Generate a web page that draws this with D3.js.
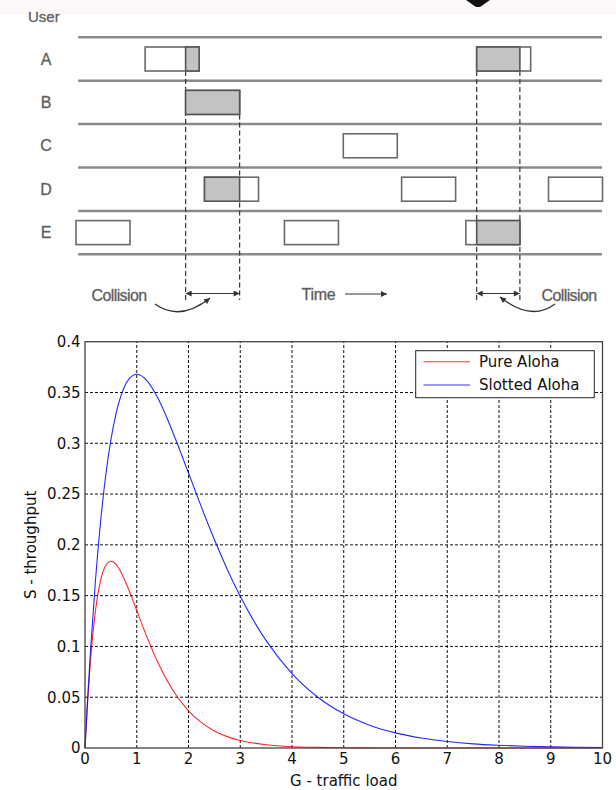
<!DOCTYPE html>
<html><head><meta charset="utf-8">
<script src="https://cdn.jsdelivr.net/npm/d3@7"></script>
<style>
html,body{margin:0;padding:0;background:#fff;}
svg{display:block;}
</style></head>
<body>
<script>
// ---------- Timing diagram data ----------
const users = ["A", "B", "C", "D", "E"];
const frameUser  = ["E", "A", "B", "D", "E", "C", "D", "E", "A", "D"];
const frameStart = [0.0, 1.28, 2.03, 2.38, 3.86, 4.95, 6.03, 7.22, 7.42, 8.75];
const frameLength = 1.0;
const collisionStart = [2.03, 7.42];
const collisionEnd   = [3.03, 8.22];

// ---------- Throughput chart data ----------
const loadG = [0, 0.05, 0.1, 0.2, 0.3, 0.4, 0.5, 0.6, 0.7, 0.8, 0.9, 1.0, 1.2, 1.4, 1.6, 1.8, 2.0,
  2.25, 2.5, 2.75, 3.0, 3.5, 4.0, 4.5, 5.0, 5.5, 6.0, 6.5, 7.0, 7.5, 8.0, 8.5, 9.0, 9.5, 10];
const pureAloha = [0, 0.0452, 0.0819, 0.1341, 0.1646, 0.1797, 0.1839, 0.1807, 0.1726, 0.1615, 0.1488, 0.1353,
  0.1089, 0.0851, 0.0652, 0.0492, 0.0366, 0.0250, 0.0168, 0.0112, 0.0074, 0.0032, 0.0013, 0.0006, 0.0002,
  0.0001, 0, 0, 0, 0, 0, 0, 0, 0, 0];
const slottedAloha = [0, 0.0476, 0.0905, 0.1637, 0.2222, 0.2681, 0.3033, 0.3293, 0.3476, 0.3595, 0.3659, 0.3679,
  0.3614, 0.3452, 0.3230, 0.2975, 0.2707, 0.2371, 0.2052, 0.1758, 0.1494, 0.1057, 0.0733, 0.0500, 0.0337,
  0.0225, 0.0149, 0.0098, 0.0064, 0.0041, 0.0027, 0.0017, 0.0011, 0.0007, 0.00045];
const xTicks = [0, 1, 2, 3, 4, 5, 6, 7, 8, 9, 10];
const yTicks = [0, 0.05, 0.1, 0.15, 0.2, 0.25, 0.3, 0.35, 0.4];
const yTickLabels = ["0", "0.05", "0.1", "0.15", "0.2", "0.25", "0.3", "0.35", "0.4"];
const seriesNames = ["Pure Aloha", "Slotted Aloha"];
const seriesColors = ["#ff0000", "#0000ff"];

const W = 616, H = 790;
const svg = d3.select("body").append("svg").attr("width", W).attr("height", H);

// top band and cut-off shape
svg.append("rect").attr("x", 0).attr("y", 0).attr("width", W).attr("height", 15).attr("fill", "#fcf8f8");
svg.append("polygon").attr("points", "466,0 490,0 480,7 476,7").attr("fill", "#111");

const defs = svg.append("defs");
defs.append("marker").attr("id", "ah").attr("viewBox", "0 0 10 10").attr("refX", 10).attr("refY", 5)
  .attr("markerWidth", 8).attr("markerHeight", 6).attr("markerUnits", "userSpaceOnUse").attr("orient", "auto-start-reverse")
  .append("path").attr("d", "M0,0 L10,5 L0,10 Z").attr("fill", "#333");
defs.append("clipPath").attr("id", "topclip").append("rect").attr("x", 0).attr("y", 0).attr("width", W).attr("height", 23);

// ---------- Diagram ----------
const t = d3.scaleLinear().domain([0, 10]).range([76, 616]);
const row = d3.scalePoint().domain(users).range([59, 232.6]);
const rowStep = row.step();
const boxH = 24;
const diagFont = "'Liberation Sans', Arial, sans-serif";
const txt = (sel) => sel.attr("font-family", diagFont).attr("font-size", 16).attr("fill", "#555")
  .attr("stroke", "#777").attr("stroke-width", 0.35);

txt(svg.append("text").attr("x", 28).attr("y", 21.5).attr("clip-path", "url(#topclip)")).attr("font-size", 15).text("User");

const lineYs = users.map(u => row(u) - rowStep / 2).concat([row("E") + rowStep / 2]);
svg.append("g").selectAll("line").data(lineYs).join("line")
  .attr("x1", t(0.04)).attr("x2", t(9.74)).attr("y1", d => d).attr("y2", d => d)
  .attr("stroke", "#8a8a8a").attr("stroke-width", 2.5);

txt(svg.append("g").selectAll("text").data(users).join("text")
  .attr("x", 46).attr("y", d => row(d) + 5.5).attr("text-anchor", "middle")).text(d => d);

// frames with shaded collided parts
const frames = frameUser.map((u, i) => ({ u, s: frameStart[i], e: frameStart[i] + frameLength }));
const shaded = [];
frames.forEach(f => {
  collisionStart.forEach((cs, k) => {
    const a = Math.max(cs, f.s), b = Math.min(collisionEnd[k], f.e);
    if (b > a) shaded.push({ u: f.u, a, b });
  });
});

// dashed collision boundaries (start at the topmost box that has that edge)
const bounds = collisionStart.concat(collisionEnd);
const boundTop = bounds.map(bv => {
  const rows = shaded.filter(s => Math.abs(s.a - bv) < 1e-6 || Math.abs(s.b - bv) < 1e-6).map(s => row(s.u));
  return d3.min(rows) - boxH / 2;
});
svg.append("g").selectAll("line").data(bounds).join("line")
  .attr("x1", d => t(d)).attr("x2", d => t(d)).attr("y1", (d, i) => boundTop[i]).attr("y2", 300)
  .attr("stroke", "#333").attr("stroke-width", 1.2).attr("stroke-dasharray", "5,3");

const fg = svg.append("g");
fg.selectAll("rect.f").data(frames).join("rect").attr("class", "f")
  .attr("x", f => t(f.s)).attr("y", f => row(f.u) - boxH / 2).attr("width", f => t(f.e) - t(f.s)).attr("height", boxH)
  .attr("fill", "#fff").attr("stroke", "#6a6a6a").attr("stroke-width", 1.6);
fg.selectAll("rect.s").data(shaded).join("rect").attr("class", "s")
  .attr("x", s => t(s.a)).attr("y", s => row(s.u) - boxH / 2).attr("width", s => t(s.b) - t(s.a)).attr("height", boxH)
  .attr("fill", "#c3c3c3").attr("stroke", "#555").attr("stroke-width", 1.6);

// arrows & labels
const arrowY = 293.5;
collisionStart.forEach((cs, k) => {
  svg.append("line").attr("x1", t(cs)).attr("x2", t(collisionEnd[k])).attr("y1", arrowY).attr("y2", arrowY)
    .attr("stroke", "#333").attr("stroke-width", 1.2)
    .attr("marker-start", "url(#ah)").attr("marker-end", "url(#ah)");
});
svg.append("path").attr("d", "M155,304 Q180,322 210,298").attr("fill", "none")
  .attr("stroke", "#333").attr("stroke-width", 1.3).attr("marker-end", "url(#ah)");
svg.append("path").attr("d", "M555,304 Q531,322 500,297").attr("fill", "none")
  .attr("stroke", "#333").attr("stroke-width", 1.3).attr("marker-end", "url(#ah)");
svg.append("line").attr("x1", 345).attr("x2", 387).attr("y1", 294).attr("y2", 294)
  .attr("stroke", "#333").attr("stroke-width", 1.2).attr("marker-end", "url(#ah)");
txt(svg.append("text").attr("x", 91.5).attr("y", 300.5)).attr("letter-spacing", -0.6).text("Collision");
txt(svg.append("text").attr("x", 541.5).attr("y", 300.5)).attr("letter-spacing", -0.6).text("Collision");
txt(svg.append("text").attr("x", 301.5).attr("y", 300)).attr("letter-spacing", -0.3).text("Time");

// ---------- Throughput chart ----------
const x = d3.scaleLinear().domain([0, 10]).range([85, 602.5]);
const y = d3.scaleLinear().domain([0, 0.4]).range([748, 341.7]);
const cf = "'DejaVu Sans', sans-serif";

const grid = svg.append("g");
grid.selectAll("line.gx").data(xTicks.slice(1, -1)).join("line")
  .attr("x1", d => x(d)).attr("x2", d => x(d)).attr("y1", y(0)).attr("y2", y(0.4))
  .attr("stroke", "#111").attr("stroke-width", 1).attr("stroke-dasharray", "3,2");
grid.selectAll("line.gy").data(yTicks.slice(1, -1)).join("line")
  .attr("x1", x(0)).attr("x2", x(10)).attr("y1", d => y(d)).attr("y2", d => y(d))
  .attr("stroke", "#111").attr("stroke-width", 1).attr("stroke-dasharray", "3,2");

const line = d3.line().curve(d3.curveMonotoneX);
[pureAloha, slottedAloha].forEach((s, i) => {
  svg.append("path").attr("d", line(loadG.map((g, j) => [x(g), y(s[j])])))
    .attr("fill", "none").attr("stroke", seriesColors[i]).attr("stroke-width", 1.1).attr("opacity", 0.85);
});

svg.append("rect").attr("x", x(0)).attr("y", y(0.4)).attr("width", x(10) - x(0)).attr("height", y(0) - y(0.4))
  .attr("fill", "none").attr("stroke", "#444").attr("stroke-width", 1.3);

svg.append("g").selectAll("text").data(xTicks).join("text")
  .attr("x", d => x(d)).attr("y", 764).attr("text-anchor", "middle")
  .attr("font-family", cf).attr("font-size", 15).attr("fill", "#111").text(d => d);
svg.append("g").selectAll("text").data(yTicks).join("text")
  .attr("x", 80.5).attr("y", d => y(d)).attr("dy", "0.36em").attr("text-anchor", "end")
  .attr("font-family", cf).attr("font-size", 15).attr("fill", "#111").text((d, i) => yTickLabels[i]);

svg.append("text").attr("x", (x(0) + x(10)) / 2).attr("y", 786).attr("text-anchor", "middle")
  .attr("font-family", cf).attr("font-size", 15).attr("fill", "#111").text("G - traffic load");
svg.append("text").attr("transform", `translate(36,${(y(0) + y(0.4)) / 2}) rotate(-90)`)
  .attr("text-anchor", "middle").attr("font-family", cf).attr("font-size", 15).attr("fill", "#111")
  .text("S - throughput");

// legend
const lg = svg.append("g");
lg.append("rect").attr("x", 415.7).attr("y", 350.7).attr("width", 178.6).attr("height", 47)
  .attr("fill", "#fff").attr("stroke", "#222").attr("stroke-width", 1);
seriesNames.forEach((n, i) => {
  const ly = 361.8 + i * 23.2;
  lg.append("line").attr("x1", 423.5).attr("x2", 470).attr("y1", ly).attr("y2", ly)
    .attr("stroke", seriesColors[i]).attr("stroke-width", 1.1).attr("opacity", 0.8);
  lg.append("text").attr("x", 479).attr("y", ly + 5.2).attr("font-family", cf).attr("font-size", 15)
    .attr("fill", "#111").text(n);
});
</script>
</body></html>
